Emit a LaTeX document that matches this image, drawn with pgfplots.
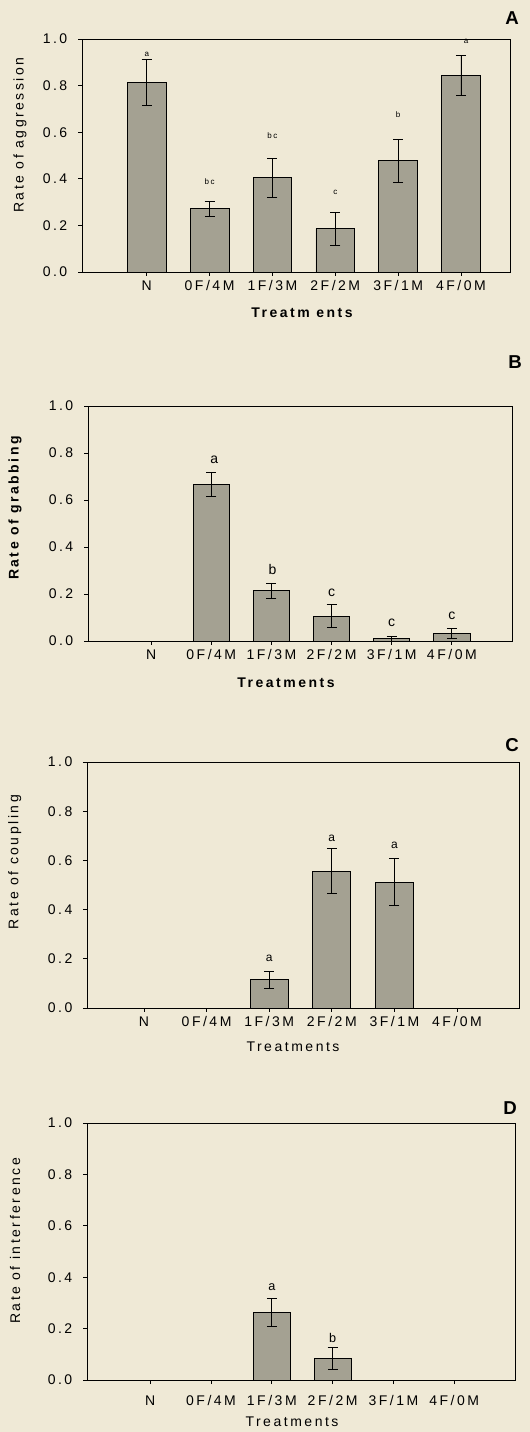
\documentclass[border=0pt]{standalone}
\usepackage{pgfplots}
\pgfplotsset{compat=1.18}
\usepackage{fontspec}
\setmainfont{Liberation Sans}[LetterSpace=18]
\definecolor{bgcream}{RGB}{239,233,214}
\definecolor{barfill}{RGB}{164,161,146}
\pgfplotsset{
  panel/.style={
    scale only axis,
    anchor=south west,
    ymin=0, ymax=1,
    ytick={0,0.2,0.4,0.6,0.8,1.0},
    xtick={0,1,2,3,4,5},
    xticklabels={N,0F/4M,1F/3M,2F/2M,3F/1M,4F/0M},
    tick align=outside,
    xtick pos=bottom, ytick pos=left,
    major tick length=3pt,
    axis line style={line width=0.6pt},
    tick style={line width=0.6pt, black},
    /pgf/number format/assume math mode=true,
    yticklabel style={xshift=-4.5pt, /pgf/number format/.cd, fixed, fixed zerofill, precision=1},
    tick label style={font=\fontsize{10.5}{12}\selectfont},
    label style={font=\fontsize{10.5}{12}\selectfont},
  },
  bars/.style={ybar, fill=barfill, draw=black, line width=0.6pt,
    error bars/.cd, y dir=both, y explicit,
    error bar style={line width=0.6pt, black},
    error mark options={line width=0.6pt, black, mark size=3.75pt, rotate=90},
    /pgfplots/.cd},
  letters/.style={draw=none, mark=none, nodes near coords, point meta=explicit symbolic,
    every node near coord/.append style={anchor=center, inner sep=0pt, font=#1}},
}
\begin{document}
\begin{tikzpicture}
\fill[bgcream] (0,0) rectangle (397.5pt,1074pt);
\useasboundingbox (0,0) rectangle (397.5pt,1074pt);

% Panel A
\begin{axis}[panel, at={(61.5pt,870pt)}, width=321pt, height=174.75pt,
  xmin=-1.03, xmax=5.78,
  ylabel={Rate of aggression},
  ylabel style={at={(axis description cs:-0.145,0.588)}, anchor=center},
  xlabel={\bfseries Treatm ents},
  xlabel style={at={(axis description cs:0,0)}, anchor=center, xshift=165pt, yshift=-30.75pt}]
\addplot[bar width=0.616, bars] coordinates {
 (0,0.814) +- (0,0.100)
 (1,0.271) +- (0,0.033)
 (2,0.404) +- (0,0.082)
 (3,0.185) +- (0,0.070)
 (4,0.477) +- (0,0.092)
 (5,0.844) +- (0,0.086)};
\addplot[letters={\fontsize{6}{7}\selectfont}] coordinates {
 (0,0.935)[a] (1,0.387)[bc] (2,0.587)[bc] (3,0.34)[c] (4,0.676)[b] (5.08,0.99)[a]};
\end{axis}
\node[font=\fontsize{14}{16}\selectfont\bfseries] at (384pt,1060.5pt) {A};

% Panel B
\begin{axis}[panel, at={(66pt,593.25pt)}, width=318pt, height=176.25pt,
  xmin=-1.05, xmax=6.0,
  ylabel={\bfseries Rate of grabbing},
  ylabel style={at={(axis description cs:-0.172,0.566)}, anchor=center},
  xlabel={\bfseries Treatments},
  xlabel style={at={(axis description cs:0,0)}, anchor=center, xshift=148.5pt, yshift=-31.5pt}]
\addplot[bar width=0.6, bars] coordinates {
 (1,0.667) +- (0,0.051)
 (2,0.214) +- (0,0.033)
 (3,0.106) +- (0,0.048)
 (4,0.010) +- (0,0.010)
 (5,0.031) +- (0,0.021)};
\addplot[letters={\fontsize{10.5}{12}\selectfont}] coordinates {
 (1.05,0.773)[a] (2.02,0.305)[b] (3,0.206)[c] (4,0.079)[c] (5,0.106)[c]};
\end{axis}
\node[font=\fontsize{14}{16}\selectfont\bfseries] at (386.25pt,802.5pt) {B};

% Panel C
\begin{axis}[panel, at={(65.25pt,318pt)}, width=324pt, height=184.5pt,
  xmin=-0.91, xmax=5.99,
  ylabel={Rate of coupling},
  ylabel style={at={(axis description cs:-0.167,0.593)}, anchor=center},
  xlabel={Treatments},
  xlabel style={at={(axis description cs:0,0)}, anchor=center, xshift=154.5pt, yshift=-29.25pt}]
\addplot[bar width=0.607, bars] coordinates {
 (2,0.115) +- (0,0.035)
 (3,0.556) +- (0,0.092)
 (4,0.512) +- (0,0.095)};
\addplot[letters={\fontsize{9}{10}\selectfont}] coordinates {
 (2,0.2)[a] (3,0.69)[a] (4,0.66)[a]};
\end{axis}
\node[font=\fontsize{14}{16}\selectfont\bfseries] at (384pt,515.25pt) {C};

% Panel D
\begin{axis}[panel, at={(65.25pt,39pt)}, width=321pt, height=192.75pt,
  xmin=-1.04, xmax=6.0,
  xticklabel style={yshift=-5pt},
  ylabel={Rate of interference},
  ylabel style={at={(axis description cs:-0.168,0.541)}, anchor=center},
  xlabel={Treatments},
  xlabel style={at={(axis description cs:0,0)}, anchor=center, xshift=153.75pt, yshift=-31.5pt}]
\addplot[bar width=0.61, bars] coordinates {
 (2,0.262) +- (0,0.055)
 (3,0.084) +- (0,0.043)};
\addplot[letters={\fontsize{9.5}{11}\selectfont}] coordinates {
 (2,0.363)[a] (3,0.162)[b]};
\end{axis}
\node[font=\fontsize{14}{16}\selectfont\bfseries] at (382.5pt,243pt) {D};
\end{tikzpicture}
\end{document}
